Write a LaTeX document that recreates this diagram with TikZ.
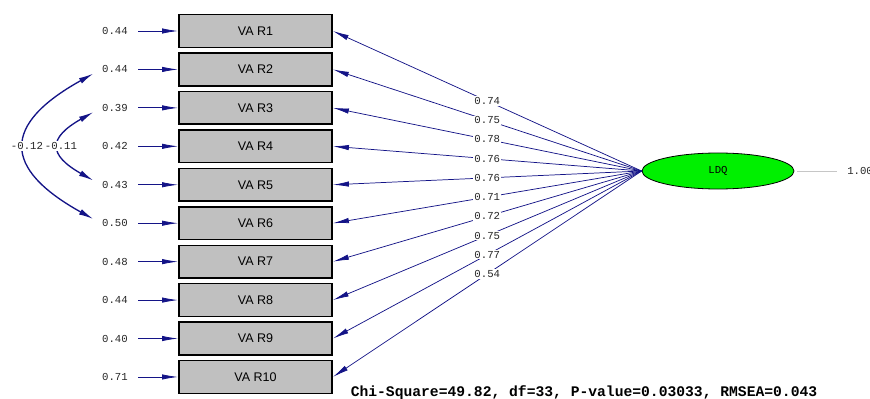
\documentclass[tikz,border=0pt]{standalone}
\usepackage{fontspec}
\setsansfont{Liberation Sans}
\setmonofont{Liberation Mono}
\usetikzlibrary{shapes.geometric}
\usetikzlibrary{arrows.meta,calc}
\definecolor{lisblue}{RGB}{20,20,135}
\definecolor{boxgray}{RGB}{192,192,192}
\definecolor{latgreen}{RGB}{0,240,0}
\tikzset{
	varbox/.style={draw=black,line width=1.1pt,fill=boxgray,minimum width=115pt,minimum height=24.5pt,inner sep=0pt,
			font=\sffamily\fontsize{9.4}{10}\selectfont},
	latent/.style={ellipse,draw=black,line width=0.6pt,fill=latgreen,minimum width=114pt,minimum height=27pt,inner sep=0pt,
			font=\ttfamily\fontsize{8}{9}\selectfont},
	num/.style={inner sep=0.8pt,text=black!85,font=\ttfamily\fontsize{8}{9}\selectfont},
	loadarrow/.style={lisblue,line width=0.55pt,-{Latex[length=12pt,width=4pt]}},
	errarrow/.style={lisblue,line width=0.6pt,shorten <=7pt,-{Latex[length=12pt,width=4pt]}},
	covarrow/.style={lisblue,line width=1pt,shorten <=6.5pt,shorten >=6.5pt,{Latex[length=11pt,width=4.5pt]}-{Latex[length=11pt,width=4.5pt]}}
}
\begin{document}
\begin{tikzpicture}[x=0.75pt,y=-0.75pt]
		\useasboundingbox (0,0) rectangle (870,399);
		\node[latent] (ldq) at (718,171) {LDQ};
		\foreach \i/\e/\l in {1/0.44/0.74,2/0.44/0.75,3/0.39/0.78,4/0.42/0.76,5/0.43/0.76,
				6/0.50/0.71,7/0.48/0.72,8/0.44/0.75,9/0.40/0.77,10/0.71/0.54}{
			\node[varbox] (var\i) at (255.5,{31+(\i-1)*38.44}) {VA R\i};
			\node[num] (e\i) at (115,{31+(\i-1)*38.44}) {\e};
			\draw[errarrow] (e\i.east) -- (var\i.west);
			\draw[loadarrow] (ldq.west) -- (var\i.east) node[num,pos=0.5,fill=white]{\l};
		}
		\draw[covarrow] (e2.west) .. controls +(-99,55) and +(-99,-55) .. (e6.west);
		\draw[covarrow] (e3.west) .. controls +(-53,30) and +(-53,-30) .. (e5.west);
		\node[num,fill=white] (cov1) at (27,146) {-0.12};
		\node[num,fill=white] (cov2) at (61,146) {-0.11};
		\node[num,anchor=west,inner sep=0pt] (one) at (847,171) {1.00};
		\draw[gray!45,line width=0.6pt,shorten <=2pt,shorten >=7.5pt] (ldq.east) -- (one.west);
		\node[font=\ttfamily\bfseries\fontsize{11}{12}\selectfont,inner sep=0pt] (fit) at (584,393)
			{Chi-Square=49.82, df=33, P-value=0.03033, RMSEA=0.043};
	\end{tikzpicture}
\end{document}
